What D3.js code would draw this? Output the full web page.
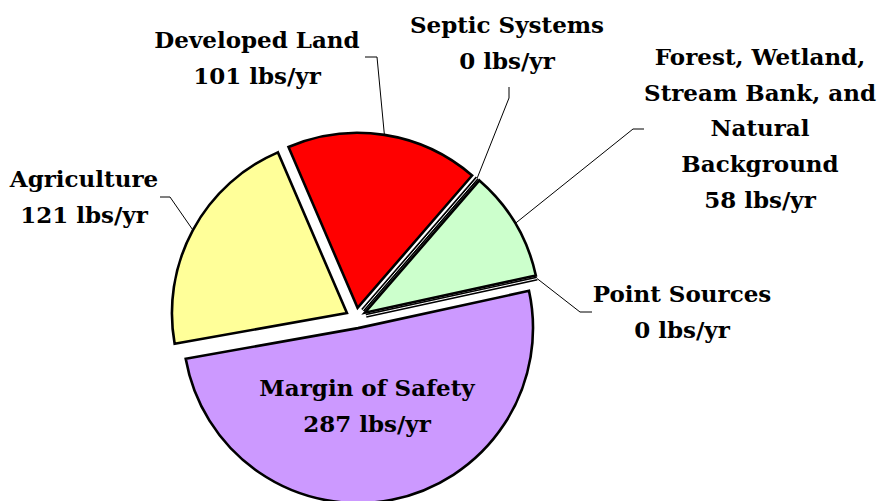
<!DOCTYPE html>
<html>
<head>
<meta charset="utf-8">
<script src="https://cdn.jsdelivr.net/npm/d3@7"></script>
<style>
  html, body { margin: 0; padding: 0; background: #fff; }
  svg { display: block; }
</style>
</head>
<body>
<svg id="chart" width="878" height="501"></svg>
<script>
// ---- data ----
const categories = ["Developed Land", "Septic Systems", "Forest, Wetland, Stream Bank, and Natural Background", "Point Sources", "Margin of Safety", "Agriculture"];
const values = [101, 0, 58, 0, 287, 121];
const units = "lbs/yr";
const colors = ["#FF0000", "#FFFFFF", "#CCFFCC", "#FFFFFF", "#CC99FF", "#FFFF99"];
// label lines (text only)
const labelLines = [
  ["Developed Land"],
  ["Septic Systems"],
  ["Forest, Wetland,", "Stream Bank, and", "Natural", "Background"],
  ["Point Sources"],
  ["Margin of Safety"],
  ["Agriculture"]
];

// ---- layout ----
const W = 878, H = 501;
const cx = 356, cy = 318, R = 175, explode = 10.3;
const startDeg = -23.25;
const fontSize = 23, lineH = 35.7;
const fontFamily = "'DejaVu Serif', serif";

// label anchors: [x center, first baseline y]
const labelPos = [
  [257, 48],
  [507, 33],
  [760, 65],
  [682, 302],
  [367, 396],
  [84, 187]
];
// leader line knee points: [labelSideEndX, labelSideEndY, kneeX, kneeY]
const leaders = [
  [365, 57, 377, 57],
  [509, 87, 509, 98],
  [644, 129, 633, 129],
  [592, 312, 580, 312],
  null,
  [160, 197, 170, 197]
];

const svg = d3.select("#chart");
const g = svg.append("g").attr("transform", `translate(${cx},${cy})`);

const start = startDeg * Math.PI / 180;
const pie = d3.pie().sort(null).value(d => d).startAngle(start).endAngle(start + 2 * Math.PI);
const arcs = pie(values);
const arc = d3.arc().innerRadius(0).outerRadius(R);

function offsetOf(a) {
  const m = (a.startAngle + a.endAngle) / 2;
  return [explode * Math.sin(m), -explode * Math.cos(m)];
}

arcs.forEach((a, i) => {
  const [ox, oy] = offsetOf(a);
  const sg = g.append("g").attr("transform", `translate(${ox},${oy})`);
  if (a.value > 0) {
    sg.append("path").attr("d", arc(a))
      .attr("fill", colors[i]).attr("stroke", "#000").attr("stroke-width", 2.6)
      .attr("stroke-linejoin", "miter");
  }
});
arcs.forEach((a, i) => {
  if (a.value > 0) return;
  const [ox, oy] = offsetOf(a);
  const m = a.startAngle;
  const x2 = R * Math.sin(m), y2 = -R * Math.cos(m);
  const sg = g.append("g").attr("transform", `translate(${ox},${oy})`);
  sg.append("line").attr("x1", 0).attr("y1", 0).attr("x2", x2).attr("y2", y2)
    .attr("stroke", "#000").attr("stroke-width", 4);
  sg.append("line").attr("x1", 0).attr("y1", 0).attr("x2", x2).attr("y2", y2)
    .attr("stroke", "#fff").attr("stroke-width", 1);
});

arcs.forEach((a, i) => {
  const L = leaders[i];
  if (!L) return;
  const [ox, oy] = offsetOf(a);
  const m = (a.startAngle + a.endAngle) / 2;
  const px = cx + ox + R * Math.sin(m), py = cy + oy - R * Math.cos(m);
  svg.append("polyline")
    .attr("points", `${L[0]},${L[1]} ${L[2]},${L[3]} ${px},${py}`)
    .attr("fill", "none").attr("stroke", "#000").attr("stroke-width", 1);
});

arcs.forEach((a, i) => {
  const lines = labelLines[i].concat([`${values[i]} ${units}`]);
  const t = svg.append("text")
    .attr("x", labelPos[i][0]).attr("y", labelPos[i][1])
    .attr("text-anchor", "middle")
    .attr("font-family", fontFamily)
    .attr("font-weight", "bold")
    .attr("font-size", fontSize)
    .attr("fill", "#000");
  lines.forEach((ln, k) => {
    t.append("tspan").attr("x", labelPos[i][0]).attr("y", labelPos[i][1] + k * lineH).text(ln);
  });
});
</script>
</body>
</html>
